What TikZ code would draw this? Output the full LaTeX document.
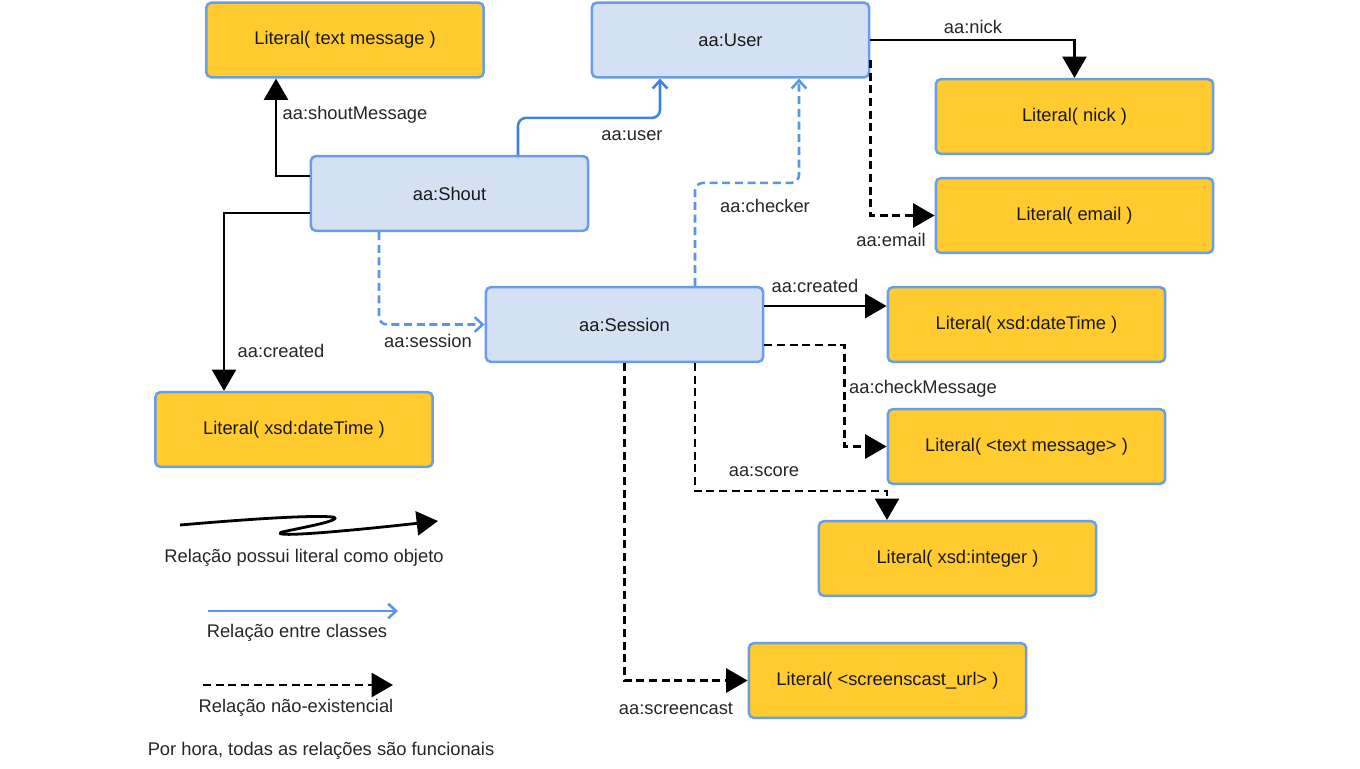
\documentclass[tikz,border=0pt]{standalone}
\usepackage{fontspec}
\setmainfont{Liberation Sans}
\usetikzlibrary{arrows.meta}
\definecolor{litfill}{HTML}{FFCB2F}
\definecolor{clsfill}{HTML}{D4E1F5}
\definecolor{boxline}{HTML}{6A9DE8}
\definecolor{relblue}{HTML}{3F82E2}
\definecolor{legblue}{HTML}{5A96E8}
\begin{document}
\begin{tikzpicture}[x=0.75pt,y=-0.75pt,
  font=\fontsize{13.75}{16}\selectfont,
  box/.style={draw=boxline,line width=1.9pt,rounded corners=3.75pt,
    minimum width=208pt,minimum height=56pt,inner sep=0pt,text=black!90},
  litbox/.style={box,fill=litfill},
  clsbox/.style={box,fill=clsfill},
  lit/.style={draw=black,line width=1.9pt,
    -{Triangle[length=16pt,width=18pt]}},
  nonex/.style={lit,dash pattern=on 6pt off 3.5pt},
  cls/.style={draw=relblue,line width=1.9pt,rounded corners=6pt,
    -{Straight Barb[length=6pt,width=11pt,line width=1.9pt]}},
  clsdash/.style={cls,draw=legblue,dash pattern=on 6pt off 3.5pt},
  lbl/.style={text=black!85,inner sep=1pt}]
\useasboundingbox (0,0) rectangle (1360,768);

% classes and literals
\node[litbox] (msg)   at (345,40)     {Literal( text message )};
\node[clsbox] (user)  at (730.5,40)   {aa:User};
\node[litbox] (nick)  at (1074.5,116.5) {Literal( nick )};
\node[litbox] (email) at (1074.5,215.5) {Literal( email )};
\node[clsbox] (shout) at (449.5,193.5) {aa:Shout};
\node[clsbox] (sess)  at (624.5,324.5) {aa:Session};
\node[litbox] (dateR) at (1026.5,324.5) {Literal( xsd:dateTime )};
\node[litbox] (chk)   at (1026.5,446.5) {Literal( <text message> )};
\node[litbox] (score) at (957.5,558.5) {Literal( xsd:integer )};
\node[litbox] (cast)  at (887.5,680.5) {Literal( <screenscast\_url> )};
\node[litbox] (dateL) at (294,429.5)  {Literal( xsd:dateTime )};

% relations of aa:Shout
\draw[lit] ([shift={(0,-17.5)}]shout.west) -| ([shift={(-69,0)}]msg.south);
\draw[lit] ([shift={(0,19.5)}]shout.west) -| ([shift={(-70,0)}]dateL.north);
\draw[cls] ([shift={(68.5,0)}]shout.north) -- ++(0,-37) -| ([shift={(-70.5,0)}]user.south);
\draw[clsdash] ([shift={(-70.5,0)}]shout.south) |- (sess.west);

% relations of aa:User
\draw[lit] (user.east) -| (nick.north);
\draw[nonex] ([shift={(0,20)}]user.east) |- (email.west);

% relations of aa:Session
\draw[clsdash] ([shift={(70.5,0)}]sess.north) -- ++(0,-103) -| ([shift={(68.5,0)}]user.south);
\draw[lit] ([shift={(0,-18.5)}]sess.east) -- ([shift={(0,-18.5)}]dateR.west);
\draw[nonex] ([shift={(0,20.5)}]sess.east) -- ++(80,0) |- (chk.west);
\draw[nonex] ([shift={(70.5,0)}]sess.south) -- ++(0,128) -| ([shift={(-70.5,0)}]score.north);
\draw[nonex] (sess.south) |- (cast.west);

% relation labels
\node[lbl] (l1)  at (355,115) {aa:shoutMessage};
\node[lbl] (l2)  at (281,351) {aa:created};
\node[lbl] (l3)  at (632,136) {aa:user};
\node[lbl] (l4)  at (765,206) {aa:checker};
\node[lbl] (l5)  at (428,341) {aa:session};
\node[lbl] (l6)  at (973,27)  {aa:nick};
\node[lbl] (l7)  at (891,240) {aa:email};
\node[lbl] (l8)  at (815,286) {aa:created};
\node[lbl] (l9)  at (923,389) {aa:checkMessage};
\node[lbl] (l10) at (764,472) {aa:score};
\node[lbl] (l11) at (676,709) {aa:screencast};

% legend
\draw[line width=2.1pt,-{Triangle[length=16pt,width=18pt]}]
  (180,525) .. controls (250,519) and (310,515) .. (333,517)
  .. controls (345,520) and (300,528) .. (282,532)
  .. controls (270,537) and (320,534) .. (438,521);
\node[lbl] (g1) at (304,558) {Relação possui literal como objeto};
\coordinate (b0) at (208,611);
\coordinate (b1) at (398,611);
\draw[line width=1.9pt,draw=legblue,
  -{Straight Barb[length=6pt,width=11pt,line width=1.9pt]}] (b0) -- (b1);
\node[lbl] (g2) at (297,633) {Relação entre classes};
\coordinate (d0) at (203,685);
\coordinate (d1) at (393,685);
\draw[nonex] (d0) -- (d1);
\node[lbl] (g3) at (296,708) {Relação não-existencial};
\node[lbl] (g4) at (321,751) {Por hora, todas as relações são funcionais};
\end{tikzpicture}
\end{document}
